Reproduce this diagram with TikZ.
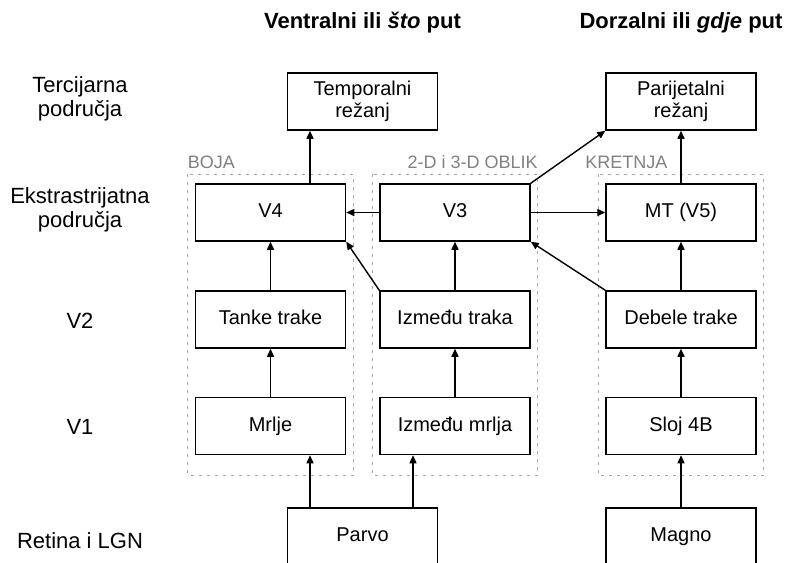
\documentclass[tikz,border=0pt]{standalone}
\usepackage{fontspec}
\setmainfont{Liberation Sans}
\usetikzlibrary{arrows.meta}

\begin{document}
\begin{tikzpicture}[x=1pt, y=-1pt,
	area/.style={draw, line width=1.5pt, minimum width=150pt, minimum height=57pt, inner sep=0pt, text height=14pt, text depth=4pt, font=\fontsize{20}{22}\selectfont},
	lobe/.style={area, text height={}, text depth={}, align=center},
	level/.style={align=center, font=\fontsize{22}{24}\selectfont},
	stream/.style={font=\bfseries\fontsize{22}{24}\selectfont},
	group/.style={draw=gray!70, line width=1.4pt, dash pattern=on 3pt off 5pt},
	grouplabel/.style={text=gray, font=\fontsize{18}{20}\selectfont, inner sep=0pt},
	arr/.style={line width=1.4pt, -{Triangle[length=8pt, width=7pt]}}
]
	\useasboundingbox (0,0) rectangle (786,562);

	% headings and levels
	\node [stream] (ventral) at (362.5,23) {Ventralni ili \textit{što} put};
	\node [stream] (dorsal) at (681,23) {Dorzalni ili \textit{gdje} put};
	\node [level] (tercijarna) at (80,99) {Tercijarna\\područja};
	\node [level] (ekstra) at (80,210) {Ekstrastrijatna\\područja};
	\node [level] (lvtwo) at (80,321) {V2};
	\node [level] (lvone) at (80,427) {V1};
	\node [level] (retina) at (80,541) {Retina i LGN};

	% areas
	\node [lobe] (temporal) at (362.5,101.5) {Temporalni\\režanj};
	\node [lobe] (parietal) at (681,101.5) {Parijetalni\\režanj};
	\node [area] (v4) at (270.5,212.5) {V4};
	\node [area] (v3) at (455,212.5) {V3};
	\node [area] (mt) at (681,212.5) {MT (V5)};
	\node [area] (tanke) at (270.5,319.5) {Tanke trake};
	\node [area] (izmtraka) at (455,319.5) {Između traka};
	\node [area] (debele) at (681,319.5) {Debele trake};
	\node [area] (mrlje) at (270.5,426) {Mrlje};
	\node [area] (izmmrlja) at (455,426) {Između mrlja};
	\node [area] (sloj) at (681,426) {Sloj 4B};
	\node [area] (parvo) at (362.5,536.5) {Parvo};
	\node [area] (magno) at (681,536.5) {Magno};

	% groups
	\draw [group] ([shift={(-7pt,9pt)}]v4.north west) coordinate (boja) rectangle ([shift={(7pt,-20pt)}]mrlje.south east);
	\draw [group] ([shift={(-7pt,9pt)}]v3.north west) rectangle ([shift={(7pt,-20pt)}]izmmrlja.south east) coordinate (oblik);
	\draw [group] ([shift={(-7pt,9pt)}]mt.north west) coordinate (kretnja) rectangle ([shift={(7pt,-20pt)}]sloj.south east);
	\node [grouplabel, anchor=base west] (bojalabel) at ([yshift=6pt]boja) {BOJA};
	\node [grouplabel, anchor=base east] (obliklabel) at ([yshift=6pt]oblik |- boja) {2-D i 3-D OBLIK};
	\node [grouplabel, anchor=base west] (kretnjalabel) at ([shift={(-13pt,6pt)}]kretnja) {KRETNJA};

	% connections
	\coordinate (leftfeed) at (310,0);
	\coordinate (midfeed) at (413,0);
	\foreach \from/\to in {tanke/v4, izmtraka/v3, debele/mt, mrlje/tanke, izmmrlja/izmtraka, sloj/debele, magno/sloj, mt/parietal}
		\draw [arr] (\from.north) -- (\to.south);
	\draw [arr] (leftfeed |- v4.north) -- (leftfeed |- temporal.south);
	\draw [arr] (v3.north east) -- (parietal.south west);
	\draw [arr] (v3.west) -- (v4.east);
	\draw [arr] (v3.east) -- (mt.west);
	\draw [arr] (izmtraka.north west) -- (v4.south east);
	\draw [arr] (debele.north west) -- (v3.south east);
	\draw [arr] (leftfeed |- parvo.north) -- (leftfeed |- mrlje.south);
	\draw [arr] (midfeed |- parvo.north) -- (midfeed |- izmmrlja.south);
\end{tikzpicture}
\end{document}
